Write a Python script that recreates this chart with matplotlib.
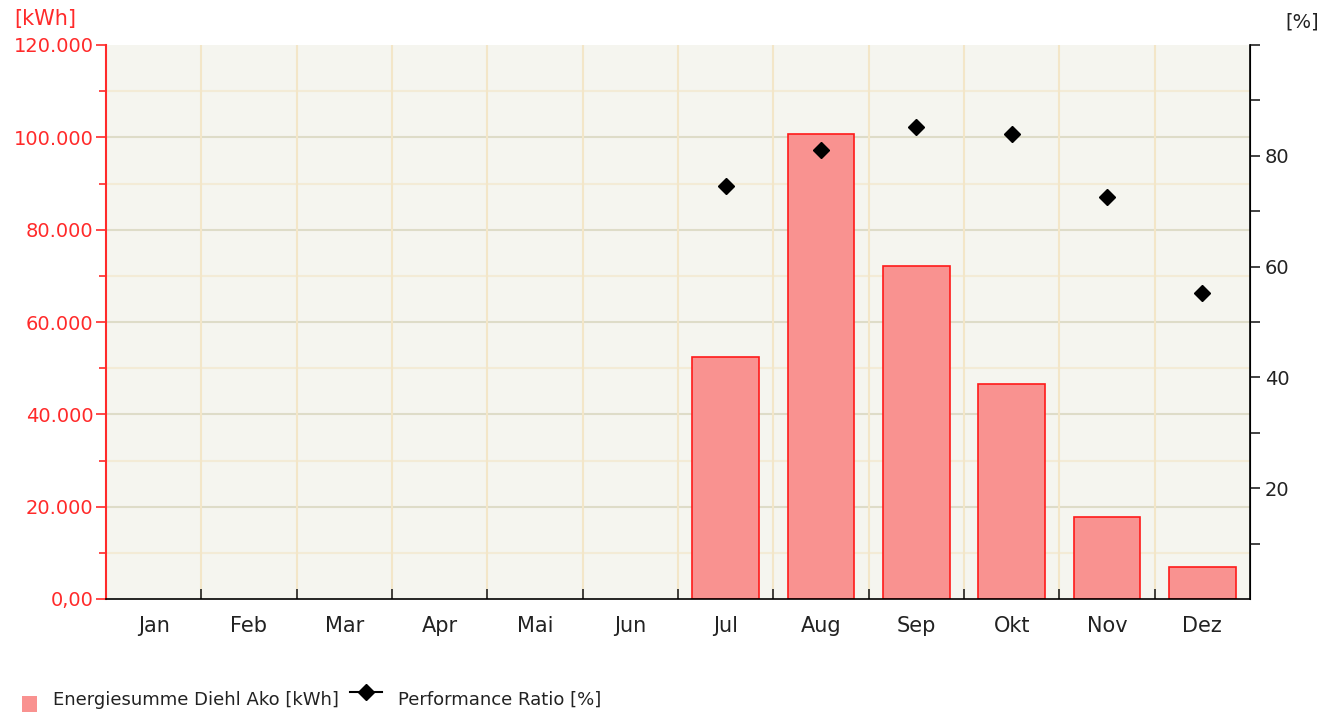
import numpy as np
import matplotlib.pyplot as plt
from matplotlib.ticker import FixedLocator, MultipleLocator, FuncFormatter
from matplotlib.lines import Line2D
from matplotlib.patches import Rectangle

plt.rcParams['font.family'] = ['DejaVu Sans']

# Daten
monate = ['Jan', 'Feb', 'Mar', 'Apr', 'Mai', 'Jun', 'Jul', 'Aug', 'Sep', 'Okt', 'Nov', 'Dez']
energie = [0, 0, 0, 0, 0, 0, 52400, 100700, 72100, 46600, 17800, 6900]
pr = [None, None, None, None, None, None, 74.5, 81.0, 85.2, 83.9, 72.6, 55.2]

x = np.arange(len(monate))
W, H = 1338, 715

fig = plt.figure(figsize=(13.38, 7.15), dpi=100)
ax = fig.add_axes([106 / W, 1 - 599 / H, (1250 - 106) / W, (599 - 45) / H])
ax.set_facecolor('#F5F5EF')

# Gitter
ax.set_xlim(-0.5, len(monate) - 0.5)
ax.set_ylim(0, 120000)
for g in range(10000, 120000, 10000):
    c = '#DEDCC8' if g % 20000 == 0 else '#F3EBD6'
    ax.axhline(g, color=c, lw=1.5, zorder=0)
for b in np.arange(0.5, len(monate) - 0.5, 1):
    ax.axvline(b, color='#F3E6C8', lw=1.5, zorder=0)

# nur Monate mit Ertrag
bx = [i for i, v in zip(x, energie) if v > 0]
by = [v for v in energie if v > 0]
ax.bar(bx, by, width=0.7, color='#F99290', edgecolor='#FF1A1A', lw=1.2, zorder=2)

# Linke Achse
rot = '#FF2A2A'
ax.yaxis.set_major_locator(MultipleLocator(20000))
ax.yaxis.set_minor_locator(MultipleLocator(10000))
ax.yaxis.set_major_formatter(FuncFormatter(
    lambda v, p: '0,00' if v == 0 else f'{int(v):,}'.replace(',', '.')))
ax.tick_params(axis='y', which='major', colors=rot, labelsize=14, length=7, width=1.2, pad=2)
ax.tick_params(axis='y', which='minor', colors=rot, length=5, width=1.2)
ax.spines['left'].set_color(rot)
ax.spines['left'].set_linewidth(1.5)
ax.spines['top'].set_visible(False)
ax.spines['bottom'].set_linewidth(1.2)

# X-Achse
ax.set_xticks(x)
ax.set_xticklabels(monate, fontsize=15, color='#222222')
ax.tick_params(axis='x', which='major', length=0, pad=12)
ax.xaxis.set_minor_locator(FixedLocator(np.arange(0.5, len(monate) - 0.5, 1)))
ax.tick_params(axis='x', which='minor', direction='in', length=7, width=1.2, color='#222222')

# Rechte Achse
ax2 = ax.twinx()
ax2.set_ylim(0, 100)
pr_x = [i for i, v in zip(x, pr) if v is not None]
pr_y = [v for v in pr if v is not None]
ax2.plot(pr_x, pr_y, 'D', color='black', ms=8, zorder=3)
ax2.yaxis.set_major_locator(FixedLocator([20, 40, 60, 80]))
ax2.yaxis.set_minor_locator(FixedLocator([10, 30, 50, 70, 90, 100]))
ax2.tick_params(axis='y', which='major', labelsize=14, length=7, width=1.2, colors='#222222')
ax2.tick_params(axis='y', which='minor', length=7, width=1.2, color='#222222')
for s in ['left', 'top', 'bottom']:
    ax2.spines[s].set_visible(False)
ax2.spines['right'].set_linewidth(1.2)

fig.text(14 / W, 1 - 19 / H, '[kWh]', color=rot, fontsize=15, va='center')
fig.text(1285 / W, 1 - 22 / H, '[%]', color='#222222', fontsize=14, va='center')

# Legende
fig.patches.append(Rectangle((22 / W, 1 - 712 / H), 15 / W, 16 / H,
                             transform=fig.transFigure, facecolor='#F99290', edgecolor='none'))
fig.text(53 / W, 1 - 700 / H, 'Energiesumme Diehl Ako [kWh]', fontsize=13,
         color='#222222', va='center')
fig.lines.append(Line2D([350 / W, 382 / W], [1 - 692 / H, 1 - 692 / H],
                        transform=fig.transFigure, color='black', lw=1.5))
fig.lines.append(Line2D([366 / W], [1 - 692 / H], transform=fig.transFigure,
                        color='black', marker='D', ms=8))
fig.text(398 / W, 1 - 700 / H, 'Performance Ratio [%]', fontsize=13,
         color='#222222', va='center')

fig.savefig('out.png', dpi=100)
